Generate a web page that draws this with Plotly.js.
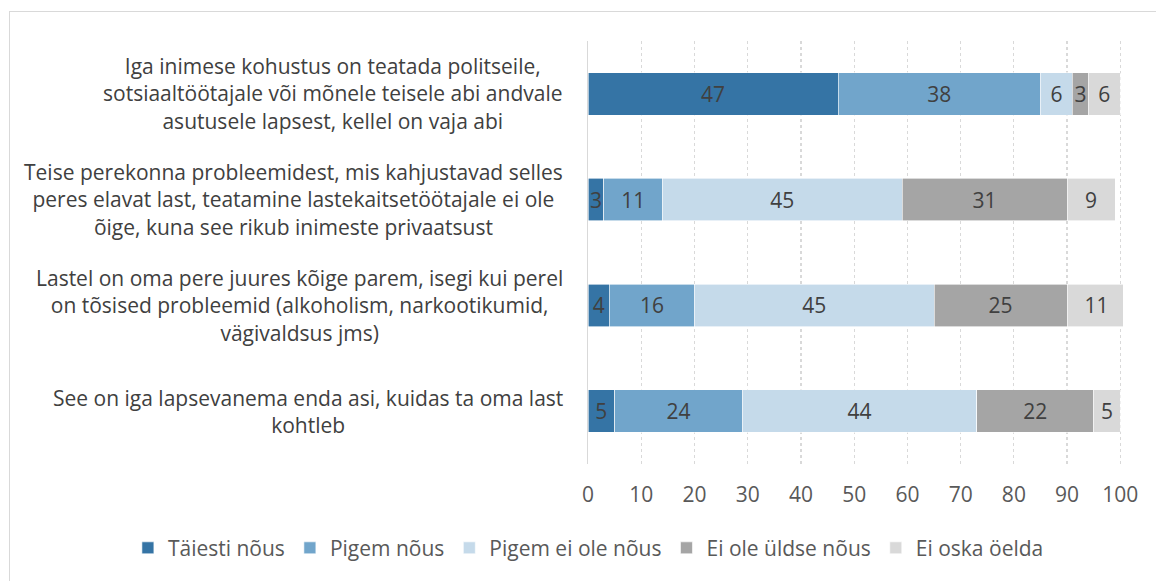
<!DOCTYPE html>
<html>
<head>
<meta charset="utf-8">
<script src="https://cdn.plot.ly/plotly-3.0.1.min.js"></script>
<style>
  html, body { margin:0; padding:0; background:#fff; }
  #frame { position:absolute; left:9px; top:11px; width:1400px; height:800px; border:1.5px solid #d9d9d9; pointer-events:none; }
  #chart { width:1156px; height:581px; }
</style>
</head>
<body>
<div id="chart"></div>
<div id="frame"></div>
<script>
const categories = [
  "Iga inimese kohustus on teatada politseile,<br>sotsiaaltöötajale või mõnele teisele abi andvale<br>asutusele lapsest, kellel on vaja abi",
  "Teise perekonna probleemidest, mis kahjustavad selles<br>peres elavat last, teatamine lastekaitsetöötajale ei ole<br>õige, kuna see rikub inimeste privaatsust",
  "Lastel on oma pere juures kõige parem, isegi kui perel<br>on tõsised probleemid (alkoholism, narkootikumid,<br>vägivaldsus jms)",
  "See on iga lapsevanema enda asi, kuidas ta oma last<br>kohtleb"
];
const seriesNames = ["Täiesti nõus", "Pigem nõus", "Pigem ei ole nõus", "Ei ole üldse nõus", "Ei oska öelda"];
const taiestiNous = [47, 3, 4, 5];
const pigemNous = [38, 11, 16, 24];
const pigemEiOleNous = [6, 45, 45, 44];
const eiOleUldseNous = [3, 31, 25, 22];
const eiOskaOelda = [6, 9, 11, 5];
const tickValues = [0, 10, 20, 30, 40, 50, 60, 70, 80, 90, 100];

const colors = ["#3574A5", "#71A5CB", "#C5DAEA", "#A5A5A5", "#D9D9D9"];
const seriesValues = [taiestiNous, pigemNous, pigemEiOleNous, eiOleUldseNous, eiOskaOelda];
const catIds = categories.map((c, i) => "c" + i);
const FONT = "Open Sans, sans-serif";

const traces = seriesValues.map((vals, i) => ({
  type: "bar",
  orientation: "h",
  name: seriesNames[i],
  x: vals,
  y: catIds,
  text: vals.map(String),
  textposition: "inside",
  insidetextanchor: "middle",
  constraintext: "none",
  textfont: { family: FONT, size: 21, color: "#404040" },
  marker: { color: colors[i], line: { color: "#ffffff", width: 0.6 } },
  hoverinfo: "x+name"
}));

const annotations = categories.map((c, i) => ({
  xref: "paper", yref: "y",
  x: -0.043, y: catIds[i],
  xanchor: "right", yanchor: "middle",
  align: "center",
  text: c,
  showarrow: false,
  font: { family: FONT, size: 21, color: "#404040" }
}));

const layout = {
  width: 1156, height: 581,
  margin: { l: 588, r: 33, t: 41, b: 117 },
  paper_bgcolor: "#ffffff", plot_bgcolor: "#ffffff",
  barmode: "stack",
  bargap: 0.6,
  showlegend: true,
  legend: {
    orientation: "h",
    x: -0.86, xanchor: "left",
    y: -0.199, yanchor: "middle",
    itemwidth: 30,
    font: { family: FONT, size: 21, color: "#595959" },
    traceorder: "normal"
  },
  xaxis: {
    range: [0, 100.5],
    tickvals: tickValues,
    ticktext: tickValues.map(String),
    showgrid: true,
    gridcolor: "#D9D9D9",
    griddash: "dot",
    gridwidth: 1.2,
    zeroline: false,
    showline: false,
    ticks: "",
    ticklabelstandoff: 16,
    tickfont: { family: FONT, size: 21, color: "#595959" },
    fixedrange: true
  },
  yaxis: {
    autorange: "reversed",
    showticklabels: false,
    showgrid: false,
    showline: true,
    linecolor: "#D9D9D9",
    linewidth: 1.5,
    ticks: "",
    zeroline: false,
    fixedrange: true
  },
  annotations: annotations
};

Plotly.newPlot("chart", traces, layout, { displayModeBar: false, staticPlot: true });
</script>
</body>
</html>
